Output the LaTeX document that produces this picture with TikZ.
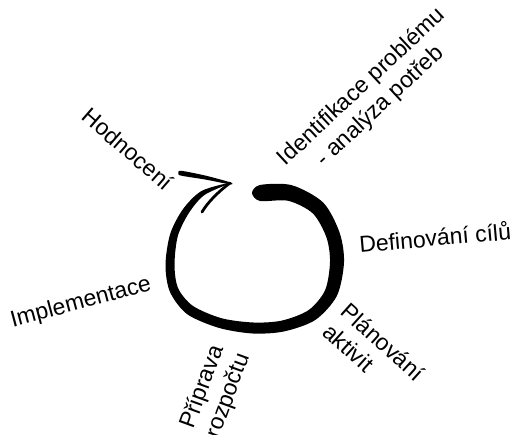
\documentclass[tikz,border=0pt]{standalone}
\usepackage{fontspec}
\setmainfont{Liberation Sans}
\usepackage{tikz}
\usetikzlibrary{calc}

\begin{document}
\begin{tikzpicture}[x=1pt, y=-1pt,
  phase/.style={inner sep=0pt, font=\fontsize{23}{27}\selectfont},
  barb/.style={line width=2.8pt, line cap=round, line join=round}
]
\useasboundingbox (0,0) rectangle (514,435);
\coordinate (tip) at (230,183);
\fill[black] plot[smooth cycle] coordinates {
  (252,193) (260,185) (291.8,185.2) (323.2,202.6) (339.6,232.7) (344,262.2)
  (336.9,295.8) (315.4,319.9) (284.2,331.4) (252.7,333.5) (218.6,327.8)
  (187.1,314.1) (169.9,291.8) (165.5,265) (170.2,233.9) (183.1,209)
  (201.7,190.9) (230,183) (204.3,195.1) (188.9,213) (177.8,236.1)
  (174.5,265) (178.1,288.2) (192.9,305.9) (221.4,318.2) (253.3,322.5)
  (281.8,320.6) (308.6,310.1) (325.1,290.2) (330,261.8) (326.4,237.3)
  (312.8,213.4) (288.2,200.8) (260,201)};
\fill[black] plot[smooth cycle] coordinates {
  (230,182.3) (205,175.5) (181,170.8) (178.5,173.2) (181,175.6) (205,179.5) (230,184.3)};
\draw[barb] (tip) .. controls (218,192) and (208,202) .. (202,212);
\node[phase, rotate=43, align=center] (ident) at (371,97) {Identifikace problému\\- analýza potřeb};
\node[phase, rotate=5] (cile) at (435,237) {Definování cílů};
\node[phase, rotate=-42, align=left] (plan) at (374,352) {Plánování\\aktivit};
\node[phase, rotate=70, align=left] (rozpocet) at (216,391) {Příprava\\rozpočtu};
\node[phase, rotate=15] (impl) at (81,303) {Implementace};
\node[phase, rotate=-41] (hodn) at (128,149) {Hodnocení};
\end{tikzpicture}
\end{document}
